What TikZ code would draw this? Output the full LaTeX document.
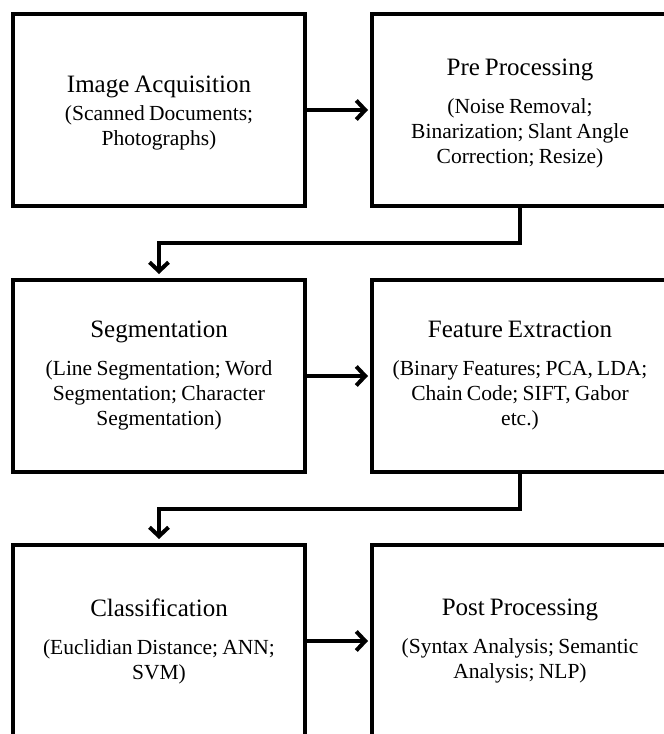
\documentclass[tikz,border=0pt]{standalone}
\usepackage{fontspec}
\setmainfont{Liberation Serif}[WordSpace=0.8]
\usetikzlibrary{arrows.meta}
\begin{document}
\begin{tikzpicture}[x=1pt,y=-1pt,
  stepbox/.style={draw, line width=4pt, minimum width=292pt, minimum height=192pt,
    align=center, inner sep=0pt, font={\fontsize{21.5}{25}\selectfont}},
  arr/.style={line width=4pt, -{Straight Barb[length=9pt,width=19pt]}, shorten >=2pt}]
\useasboundingbox (0,0) rectangle (664,734);
\node[stepbox] (ia) at (159,110) {{\fontsize{25}{25}\selectfont\rule{0pt}{23.5pt}Image Acquisition}\\[3pt](Scanned Documents;\\Photographs)};
\node[stepbox, minimum width=296pt] (pp) at (520,110) {{\fontsize{25}{25}\selectfont\rule{0pt}{23.5pt}Pre Processing}\\[13pt](Noise Removal;\\Binarization; Slant Angle\\Correction; Resize)};
\node[stepbox] (sg) at (159,376) {{\fontsize{25}{25}\selectfont Segmentation}\\[13pt](Line Segmentation; Word\\Segmentation; Character\\Segmentation)};
\node[stepbox, minimum width=296pt] (fe) at (520,376) {{\fontsize{25}{25}\selectfont Feature Extraction}\\[13pt](Binary Features; PCA, LDA;\\Chain Code; SIFT, Gabor\\etc.)};
\node[stepbox] (cl) at (159,641) {{\fontsize{25}{25}\selectfont Classification}\\[13pt](Euclidian Distance; ANN;\\SVM)};
\node[stepbox, minimum width=296pt] (po) at (520,641) {{\fontsize{25}{25}\selectfont Post Processing}\\[13pt](Syntax Analysis; Semantic\\Analysis; NLP)};
\draw[arr] (ia.east) -- (pp.west);
\draw[arr] (sg.east) -- (fe.west);
\draw[arr] (cl.east) -- (po.west);
\draw[arr, shorten >=4pt] (pp.south) -- ++(0,35) -| (sg.north);
\draw[arr, shorten >=4pt] (fe.south) -- ++(0,35) -| (cl.north);
\end{tikzpicture}
\end{document}
